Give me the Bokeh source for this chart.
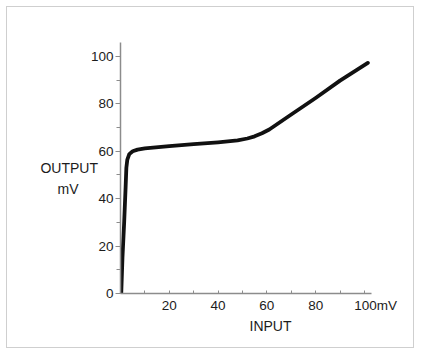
from bokeh.plotting import figure
from bokeh.models import FixedTicker, Title
from bokeh.embed import file_html
from bokeh.resources import INLINE

# Transfer curve (input mV -> output mV)
input_mv = [0.3, 0.8, 1.5, 2.1, 2.4, 2.8, 3.6, 5.0, 7.0, 10, 20, 30, 40, 48, 52, 55, 58, 61, 70, 80, 90, 101.4]
output_mv = [0, 15, 30, 45, 53, 56.5, 58.8, 60.0, 60.7, 61.2, 62.2, 63.0, 63.8, 64.6, 65.4, 66.3, 67.6, 69.2, 75.5, 82.5, 89.8, 97.3]

x_ticks = [20, 40, 60, 80, 100]
x_minor = [10, 30, 50, 70, 90]
y_ticks = [0, 20, 40, 60, 80, 100]
y_minor = [10, 30, 50, 70, 90]
x_label_overrides = {100: "\u00a0" * 6 + "100mV"}

FONT = "Liberation Sans"
TXT = "#1c1c1c"
AX = "#8c8c8c"

p = figure(width=408, height=342, output_backend="svg", toolbar_location=None,
           x_range=(0, 102.9), y_range=(0, 105.9),
           min_border_left=113, min_border_right=44, min_border_top=35, min_border_bottom=56)
p.styles = {"border": "1px solid #cfcfcf", "margin-left": "6px", "margin-top": "6px"}
p.outline_line_color = None
p.grid.visible = False
p.background_fill_color = "white"
p.border_fill_color = "white"

p.line(input_mv, output_mv, line_color="#111111", line_width=3.8, line_join="round", line_cap="round")

xa = p.xaxis[0]
xa.ticker = FixedTicker(ticks=x_ticks, minor_ticks=x_minor)
xa.major_label_overrides = x_label_overrides
xa.axis_line_color = AX
xa.axis_line_width = 1.5
xa.major_tick_line_color = AX
xa.minor_tick_line_color = AX
xa.major_tick_in = 3
xa.major_tick_out = 0
xa.minor_tick_in = 3
xa.minor_tick_out = 0
xa.major_label_standoff = 4
xa.major_label_text_font = FONT
xa.major_label_text_font_size = "13.5px"
xa.major_label_text_color = TXT

ya = p.yaxis[0]
ya.ticker = FixedTicker(ticks=y_ticks, minor_ticks=y_minor)
ya.axis_line_color = AX
ya.axis_line_width = 1.5
ya.major_tick_line_color = AX
ya.minor_tick_line_color = AX
ya.major_tick_in = 0
ya.major_tick_out = 5
ya.minor_tick_in = 0
ya.minor_tick_out = 4
ya.major_label_standoff = 2
ya.major_label_text_font = FONT
ya.major_label_text_font_size = "13.5px"
ya.major_label_text_color = TXT
ya.axis_label = "\u00a0\nOUTPUT\nmV" + "\u00a0" * 5
ya.axis_label_orientation = "horizontal"
ya.axis_label_standoff = -10
ya.axis_label_text_font = FONT
ya.axis_label_text_font_size = "14px"
ya.axis_label_text_font_style = "normal"
ya.axis_label_text_line_height = 1.3
ya.axis_label_text_color = TXT

p.add_layout(Title(text="INPUT", align="left", offset=129, standoff=0,
                   text_font=FONT, text_font_size="14px", text_font_style="normal",
                   text_color=TXT), "below")

open("out.html", "w").write(file_html(p, INLINE))
